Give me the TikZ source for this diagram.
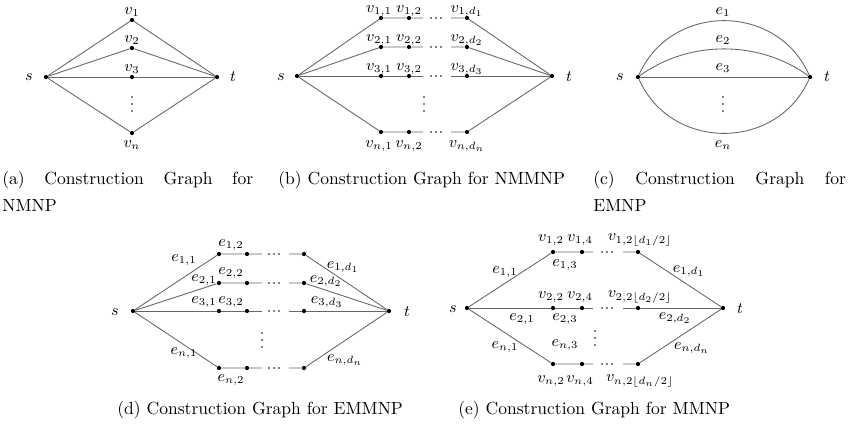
\documentclass[tikz,border=0pt]{standalone}
\begin{document}
\begin{tikzpicture}[x=0.57pt,y=-0.57pt,
  vtx/.style={circle,fill=black,inner sep=0pt,minimum size=2.4pt},
  dotmark/.style={circle,fill=black,inner sep=0pt,minimum size=1.1pt},
  conn/.style={draw=black!60,line width=0.5pt},
  lab/.style={font=\fontsize{9}{11}\selectfont,inner sep=0pt},
  captext/.style={anchor=base west,inner sep=0pt,font=\normalsize}]
\useasboundingbox (0,0) rectangle (856,431);

% vertical ellipsis: three small dots centred at the given point
\newcommand{\columndots}[2]{%
  \node[dotmark] at (#1,#2-7) {};
  \node[dotmark] at (#1,#2) {};
  \node[dotmark] at (#1,#2+7) {};}
% horizontal ellipsis: three small dots centred at the given point
\newcommand{\rowdots}[2]{%
  \node[dotmark] at (#1-5,#2) {};
  \node[dotmark] at (#1,#2) {};
  \node[dotmark] at (#1+5,#2) {};}

% ---------- (a) node-disjoint paths through single vertices ----------
\node[vtx] (as) at (46,77) {};
\node[vtx] (at) at (217,77) {};
\node[vtx] (a1) at (132,20) {};
\node[vtx] (a2) at (132,48) {};
\node[vtx] (a3) at (132,77) {};
\node[vtx] (an) at (132,133) {};
\foreach \v in {1,2,3,n} \draw[conn] (as) -- (a\v) -- (at);
\node[lab] (asl) at (29,77) {$s$};
\node[lab] (atl) at (233,77) {$t$};
\node[lab] (a1l) at (132,12) {$v_1$};
\node[lab] (a2l) at (132,40) {$v_2$};
\node[lab] (a3l) at (132,69) {$v_3$};
\node[lab] (anl) at (132,145) {$v_n$};
\columndots{132}{104}
\node[captext] (capa1) at (2,184) {\makebox[143pt][s]{(a) Construction Graph for}};
\node[captext] (capa2) at (2,211) {NMNP};

% ---------- (b) paths of several vertices ----------
\node[vtx] (bs) at (297,76) {};
\node[vtx] (bt) at (552,76) {};
\foreach \r/\y in {1/18,2/47,3/76,n/132} {
  \node[vtx] (b\r a) at (381,\y) {};
  \node[vtx] (b\r b) at (409,\y) {};
  \node[vtx] (b\r c) at (467,\y) {};
  \coordinate (b\r L) at (423,\y);
  \coordinate (b\r R) at (451,\y);
  \rowdots{436}{\y}
  \draw[conn] (bs) -- (b\r a) -- (b\r b) -- (b\r L);
  \draw[conn] (b\r R) -- (b\r c) -- (bt);
}
\node[lab] (bsl) at (281,77) {$s$};
\node[lab] (btl) at (569,77) {$t$};
\foreach \r/\y in {1/11,2/40,3/69} {
  \node[lab] at (379,\y) {$v_{\r,1}$};
  \node[lab] at (409,\y) {$v_{\r,2}$};
  \node[lab] at (467,\y) {$v_{\r,d_\r}$};
}
\node[lab] (bn1) at (379,146) {$v_{n,1}$};
\node[lab] (bn2) at (409,146) {$v_{n,2}$};
\node[lab] (bn3) at (467,146) {$v_{n,d_n}$};
\columndots{424}{104}
\node[captext] (capb) at (278,184) {(b) Construction Graph for NMMNP};

% ---------- (c) parallel edges ----------
\node[vtx] (cs) at (638,77) {};
\node[vtx] (ct) at (810,77) {};
\draw[conn] (cs) .. controls (671,2.6) and (777,2.6) .. (ct);
\draw[conn] (cs) .. controls (689,40) and (759,40) .. (ct);
\draw[conn] (cs) -- (ct);
\draw[conn] (cs) .. controls (671,151.4) and (777,151.4) .. (ct);
\node[lab] (csl) at (620,77) {$s$};
\node[lab] (ctl) at (827,77) {$t$};
\node[lab] (ce1) at (723,12) {$e_1$};
\node[lab] (ce2) at (723,40) {$e_2$};
\node[lab] (ce3) at (723,68) {$e_3$};
\node[lab] (cen) at (723,145) {$e_n$};
\columndots{723}{104}
\node[captext] (capc1) at (593,184) {\makebox[144pt][s]{(c) Construction Graph for}};
\node[captext] (capc2) at (593,211) {EMNP};

% ---------- (d) edge-labelled paths ----------
\node[vtx] (ds) at (133,311) {};
\node[vtx] (dt) at (389,311) {};
\foreach \r/\y in {1/254,2/283,3/311,n/368} {
  \node[vtx] (d\r a) at (219,\y) {};
  \node[vtx] (d\r b) at (247,\y) {};
  \node[vtx] (d\r c) at (304,\y) {};
  \coordinate (d\r L) at (262,\y);
  \coordinate (d\r R) at (289,\y);
  \rowdots{274}{\y}
  \draw[conn] (ds) -- (d\r a) -- (d\r b) -- (d\r L);
  \draw[conn] (d\r R) -- (d\r c) -- (dt);
}
\node[lab] (dsl) at (115,312) {$s$};
\node[lab] (dtl) at (407,312) {$t$};
\node[lab] at (184,260) {$e_{1,1}$};
\node[lab] at (231,245) {$e_{1,2}$};
\node[lab] at (343,267) {$e_{1,d_1}$};
\node[lab] at (204,280) {$e_{2,1}$};
\node[lab] at (231,273) {$e_{2,2}$};
\node[lab] at (326,281) {$e_{2,d_2}$};
\node[lab] at (204,302) {$e_{3,1}$};
\node[lab] at (231,302) {$e_{3,2}$};
\node[lab] at (327,302) {$e_{3,d_3}$};
\node[lab] at (184,353) {$e_{n,1}$};
\node[lab] at (231,380) {$e_{n,2}$};
\node[lab] at (345,360) {$e_{n,d_n}$};
\columndots{262}{340}
\node[captext] (capd) at (117,414) {(d) Construction Graph for EMMNP};

% ---------- (e) mixed vertex/edge paths ----------
\node[vtx] (es) at (467,308) {};
\node[vtx] (et) at (723,308) {};
\foreach \r/\y in {1/252,2/308,n/364} {
  \node[vtx] (e\r a) at (553,\y) {};
  \node[vtx] (e\r b) at (582,\y) {};
  \node[vtx] (e\r c) at (638,\y) {};
  \coordinate (e\r L) at (593,\y);
  \coordinate (e\r R) at (623,\y);
  \rowdots{607}{\y}
  \draw[conn] (es) -- (e\r a) -- (e\r b) -- (e\r L);
  \draw[conn] (e\r R) -- (e\r c) -- (et);
}
\node[lab] (esl) at (453,309) {$s$};
\node[lab] (etl) at (740,309) {$t$};
\node[lab] at (551,240) {$v_{1,2}$};
\node[lab] at (580,240) {$v_{1,4}$};
\node[lab] at (640,240) {$v_{1,2\lfloor d_1/2\rfloor}$};
\node[lab] at (565,265) {$e_{1,3}$};
\node[lab] at (505,272) {$e_{1,1}$};
\node[lab] at (689,271) {$e_{1,d_1}$};
\node[lab] at (551,297) {$v_{2,2}$};
\node[lab] at (580,297) {$v_{2,4}$};
\node[lab] at (640,297) {$v_{2,2\lfloor d_2/2\rfloor}$};
\node[lab] at (522,319) {$e_{2,1}$};
\node[lab] at (565,319) {$e_{2,3}$};
\node[lab] at (675,318) {$e_{2,d_2}$};
\node[lab] at (505,347) {$e_{n,1}$};
\node[lab] at (565,345) {$e_{n,3}$};
\node[lab] at (692,348) {$e_{n,d_n}$};
\node[lab] at (551,381) {$v_{n,2}$};
\node[lab] at (580,381) {$v_{n,4}$};
\node[lab] at (640,381) {$v_{n,2\lfloor d_n/2\rfloor}$};
\columndots{595}{338}
\node[captext] (cape) at (458,414) {(e) Construction Graph for MMNP};
\end{tikzpicture}
\end{document}
